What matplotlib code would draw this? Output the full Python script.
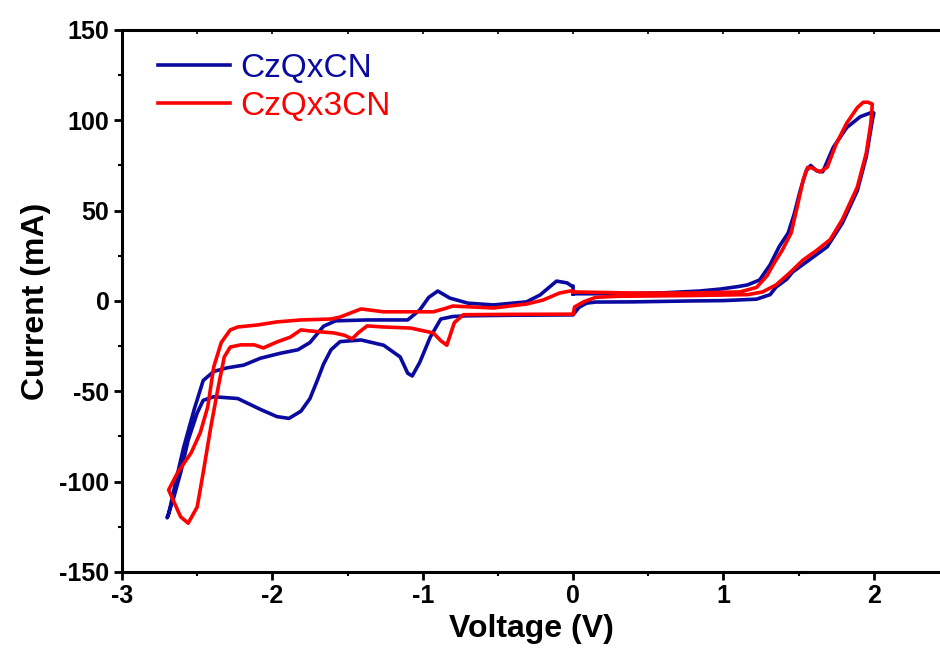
import numpy as np
import matplotlib.pyplot as plt
from matplotlib.ticker import MultipleLocator

# CzQxCN: positive loop, then negative loop (V, mA)
blue_v = [0.00, 0.30, 0.60, 0.84, 0.98, 1.10, 1.16, 1.24, 1.31, 1.37, 1.43, 1.47, 1.51, 1.55, 1.58,
          1.62, 1.66, 1.73, 1.82, 1.91, 1.99, 2.00,
          1.99, 1.95, 1.89, 1.79, 1.69, 1.57, 1.46, 1.42, 1.35, 1.31, 1.22, 1.00, 0.78, 0.40, 0.15,
          0.09, 0.04, 0.01, 0.00,
          -0.40, -0.70, -0.80, -0.88, -0.95, -1.02, -1.07, -1.10, -1.15, -1.26, -1.41, -1.55, -1.61,
          -1.66, -1.70, -1.75, -1.81, -1.89, -1.97, -2.08, -2.23, -2.39, -2.46, -2.50, -2.56, -2.61,
          -2.66, -2.70,
          -2.69, -2.64, -2.59, -2.52, -2.46, -2.39, -2.30, -2.19, -2.08, -1.95, -1.83, -1.75, -1.66,
          -1.58, -1.37, -1.10, -1.02, -0.96, -0.90, -0.82, -0.70, -0.53, -0.31, -0.22, -0.11, -0.04,
          -0.01, 0.00, 0.00]
blue_i = [4.0, 4.0, 4.5, 5.5, 6.6, 8.0, 8.9, 11.6, 20, 30, 37.6, 48, 61, 72, 75,
          72, 71.5, 85, 96, 102, 104.5, 104,
          100, 80, 61, 43, 30, 22.7, 16, 12, 7.7, 3.5, 1.0, 0.2, 0.0, -0.5, -0.6,
          -1.2, -3.5, -6.6, -7.7,
          -7.9, -8.2, -8.6, -10, -20, -34, -41.5, -40, -31, -24.5, -21.6, -22.5, -27,
          -35, -43.7, -54, -61, -65, -64, -60, -54, -53, -55, -62, -77, -95,
          -110, -120,
          -118, -99, -81, -60, -44, -39, -37, -35.5, -31.7, -29, -27, -23, -14,
          -11, -10.5, -10.5, -5, 2, 5.5, 1.6, -1.2, -2.2, -0.5, 3.3, 11, 10,
          8.3, 8.3, 4.0]

# CzQx3CN
red_v = [0.00, 0.40, 0.78, 1.11, 1.22, 1.29, 1.33, 1.39, 1.45, 1.49, 1.53, 1.56, 1.59, 1.64, 1.69,
         1.75, 1.82, 1.89, 1.93, 1.96, 1.99,
         1.98, 1.95, 1.89, 1.79, 1.71, 1.62, 1.53, 1.44, 1.35, 1.26, 1.16, 0.78, 0.30, 0.15, 0.07,
         0.01, 0.00,
         -0.40, -0.73, -0.79, -0.84, -0.88, -0.93, -1.08, -1.26, -1.37, -1.43, -1.47, -1.52, -1.59,
         -1.75, -1.81, -1.88, -1.97, -2.06, -2.12, -2.21, -2.28, -2.32, -2.36, -2.41, -2.46, -2.50,
         -2.56, -2.61, -2.69,
         -2.63, -2.54, -2.48, -2.43, -2.39, -2.34, -2.28, -2.23, -2.10, -1.97, -1.81, -1.61, -1.55,
         -1.41, -1.26, -0.93, -0.86, -0.80, -0.68, -0.53, -0.31, -0.20, -0.09, -0.02, 0.00, 0.00]
red_i = [5.0, 4.4, 4.4, 5.0, 7.5, 14, 20, 28, 37.6, 52, 67, 74, 73.6, 71.4, 74,
         87, 98.5, 107, 110, 110, 109,
         98.5, 82, 63, 45, 34, 28, 22.7, 15.5, 8.9, 5.0, 3.5, 3.0, 2.6, 2.0, -0.5,
         -3.3, -7.3,
         -7.4, -7.6, -12, -24.5, -22, -17.7, -15, -14.4, -13.8, -17.7, -21, -19, -17.7,
         -16.6, -16, -20, -22.7, -26, -24.3, -24.3, -25.5, -31, -47.6, -70, -95, -114,
         -123, -119.5, -104.6,
         -95, -84, -73, -58.7, -36.5, -23, -16, -14.4, -13.3, -11.6, -10.5, -10, -8.9,
         -4.4, -6, -6, -4.4, -2.8, -3.3, -3.9, -1.7, 0.5, 4.4, 5.5, 5.5, 5.0]

labels = ['CzQxCN', 'CzQx3CN']
colors = ['#0a0aa0', '#ff0000']

plt.rcParams['font.family'] = ['Liberation Sans', 'DejaVu Sans']
plt.rcParams['axes.unicode_minus'] = False

fig = plt.figure(figsize=(9.4, 6.63), dpi=100)
ax = fig.add_axes([0.1298, 0.1373, 0.8702, 0.8175])

ax.plot(blue_v, blue_i, color=colors[0], linewidth=2.6, label=labels[0], solid_joinstyle='round')
ax.plot(red_v, red_i, color=colors[1], linewidth=2.6, label=labels[1], solid_joinstyle='round')

ax.set_xlim(-3, 2.44)
ax.set_ylim(-150, 150)
ax.xaxis.set_major_locator(MultipleLocator(1))
ax.xaxis.set_minor_locator(MultipleLocator(0.5))
ax.yaxis.set_major_locator(MultipleLocator(50))
ax.yaxis.set_minor_locator(MultipleLocator(25))

for s in ['left', 'bottom', 'top']:
    ax.spines[s].set_linewidth(2.2)
ax.spines['right'].set_visible(False)

ax.tick_params(which='major', direction='out', length=6, width=2, labelsize=18, pad=3,
               top=False)
ax.tick_params(which='minor', direction='out', length=3, width=1.5)
for lab in ax.get_xticklabels() + ax.get_yticklabels():
    lab.set_fontweight('bold')

# small ticks along the top spine
ax_top = ax.secondary_xaxis('top')
ax_top.xaxis.set_major_locator(MultipleLocator(0.5))
ax_top.tick_params(direction='in', length=3, width=1.2, labeltop=False)
ax_top.spines['top'].set_visible(False)

ax.set_xlabel('Voltage (V)', fontsize=23, fontweight='bold', labelpad=4)
ax.set_ylabel('Current (mA)', fontsize=23, fontweight='bold', labelpad=6)

ax.legend(loc='upper left', bbox_to_anchor=(0.02, 0.995), frameon=False, fontsize=24,
          handlelength=2.15, handletextpad=0.3, labelspacing=0.22, labelcolor='linecolor',
          borderaxespad=0.2)

fig.savefig('out.png', dpi=100, facecolor='white')
